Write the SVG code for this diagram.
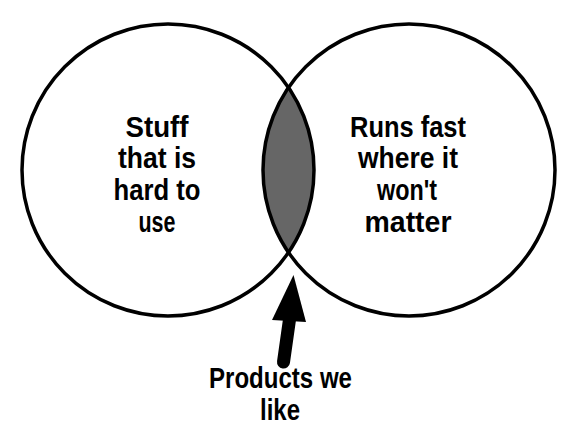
<svg xmlns="http://www.w3.org/2000/svg" width="576" height="446" viewBox="0 0 576 446">
<style>
.circ{fill:none;stroke:#000;stroke-width:3.5}
.lens{fill:#666;stroke:none}
.lbl{font-family:"Liberation Sans",Arial,sans-serif;font-weight:bold;font-size:29px;fill:#000;text-anchor:middle}
</style>
<rect width="576" height="446" fill="#fff"/>
<g id="intersection">
<path class="lens" d="M288.5 87.6 A146 146 0 0 1 288.5 252.4 A146 146 0 0 1 288.5 87.6 Z"/>
</g>
<g id="left-circle">
<circle class="circ" cx="168" cy="170" r="146"/>
<text class="lbl"><tspan x="157" y="137" textLength="63" lengthAdjust="spacingAndGlyphs">Stuff</tspan><tspan x="157" y="168" textLength="78" lengthAdjust="spacingAndGlyphs">that is</tspan><tspan x="157" y="200" textLength="87" lengthAdjust="spacingAndGlyphs">hard to</tspan><tspan x="157" y="232" textLength="37" lengthAdjust="spacingAndGlyphs">use</tspan></text>
</g>
<g id="right-circle">
<circle class="circ" cx="409" cy="170" r="146"/>
<text class="lbl"><tspan x="408" y="137" textLength="116" lengthAdjust="spacingAndGlyphs">Runs fast</tspan><tspan x="408" y="168" textLength="100" lengthAdjust="spacingAndGlyphs">where it</tspan><tspan x="407" y="200" textLength="60" lengthAdjust="spacingAndGlyphs">won't</tspan><tspan x="408" y="232" textLength="87" lengthAdjust="spacingAndGlyphs">matter</tspan></text>
</g>
<g id="connectors">
<line x1="290" y1="316" x2="283.5" y2="362" stroke="#000" stroke-width="13" stroke-linecap="round"/>
<polygon points="293.5,275 306,322 272,320" fill="#000"/>
</g>
<g id="label-products">
<text class="lbl"><tspan x="280.5" y="388" textLength="143" lengthAdjust="spacingAndGlyphs">Products we</tspan><tspan x="280" y="420" textLength="40" lengthAdjust="spacingAndGlyphs">like</tspan></text>
</g>
</svg>
